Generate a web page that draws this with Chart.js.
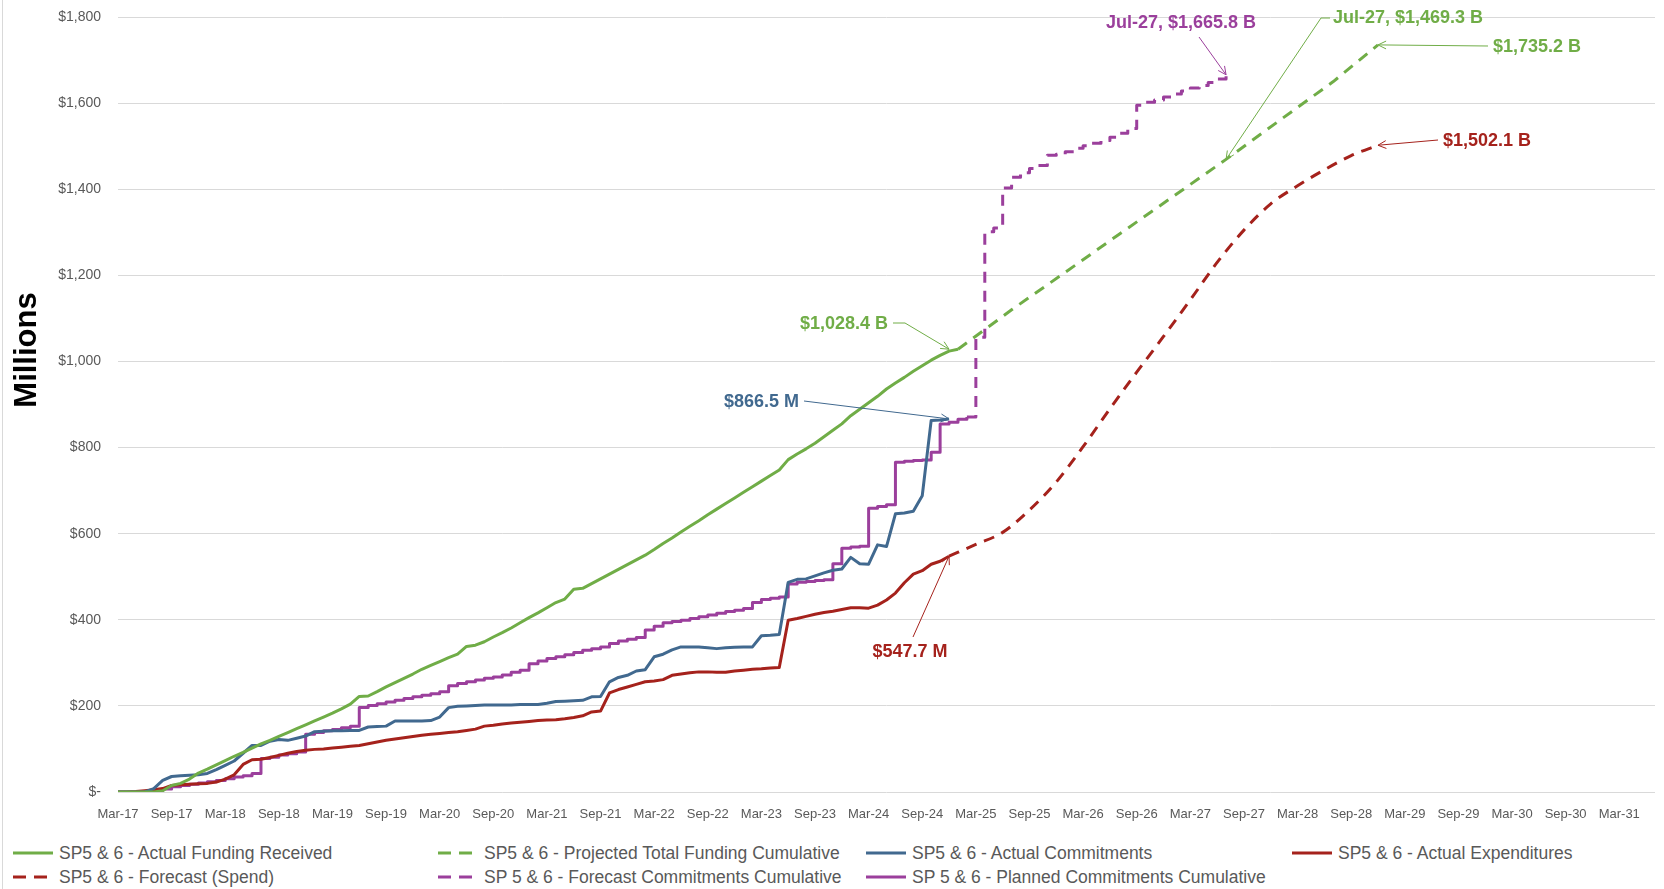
<!DOCTYPE html>
<html>
<head>
<meta charset="utf-8">
<title>SP5 &amp; 6 Funding, Commitments and Expenditures</title>
<script src="https://cdn.jsdelivr.net/npm/chart.js@4.4.1/dist/chart.umd.min.js"></script>
<style>
  html, body { margin: 0; padding: 0; background: #ffffff; }
  body { width: 1664px; height: 889px; position: relative; overflow: hidden; font-family: 'Liberation Sans', Arial, sans-serif; }
  #frame { position: absolute; left: 2px; top: 0; width: 1px; height: 889px; background: #d9d9d9; }
  #chart { position: absolute; left: 0; top: 0; }
  .legend-item { position: absolute; height: 22px; display: flex; align-items: center; color: #595959; font-size: 17.5px; white-space: nowrap; }
  .legend-item svg { margin-right: 6px; }
</style>
</head>
<body>
<div id="frame"></div>
<canvas id="chart" width="1664" height="836"></canvas>
<div id="legend"></div>
<script>
// monthly category axis, Mar-17 .. Jul-31
const firstMonth = 'Mar-17';
const monthCount = 173;
const monthNames = ['Jan', 'Feb', 'Mar', 'Apr', 'May', 'Jun', 'Jul', 'Aug', 'Sep', 'Oct', 'Nov', 'Dec'];

// actual series, one value per month starting Mar-17 ($ millions)
const fundingReceived = [
  0, 0, 0, 0, 0, 3, 15, 20, 30, 44,
  53, 63, 73, 83, 92, 102, 112, 120, 129, 138,
  147, 156, 165, 174, 183, 193, 204, 222, 223, 233,
  244, 254, 264, 274, 285, 294, 303, 312, 320, 338,
  341, 349, 360, 370, 381, 393, 405, 416, 428, 440,
  448, 471, 473, 484, 495, 506, 517, 528, 539, 550,
  563, 577, 590, 604, 617, 630, 644, 657, 670, 683,
  696, 709, 722, 735, 748, 772, 785, 797, 810, 825,
  840, 855, 874, 889, 904, 919, 936, 950, 963, 977,
  990, 1003, 1014, 1024, 1028.4
];
const actualCommitments = [
  0, 0, 0, 0, 8, 27, 36, 38, 39, 40,
  43, 52, 62, 72, 90, 108, 108, 118, 122, 120,
  125, 130, 140, 141, 142, 142, 143, 143, 151, 152,
  153, 165, 165, 165, 165, 166, 174, 196, 199, 200,
  201, 202, 202, 202, 202, 203, 203, 203, 206, 210,
  211, 212, 213, 221, 222, 256, 266, 271, 281, 284,
  314, 320, 330, 337, 337, 337, 335, 333, 335, 336,
  337, 337, 363, 364, 366, 487, 494, 495, 502, 509,
  515, 518, 545, 530, 529, 574, 570, 646, 648, 652,
  688, 863, 864, 866.5
];
const actualExpenditures = [
  0, 0, 1, 3, 5, 8, 15, 17, 18, 19,
  20, 23, 30, 40, 64, 75, 76, 80, 85, 90,
  94, 97, 99, 100, 102, 104, 106, 108, 112, 116,
  120, 123, 126, 129, 132, 134, 136, 138, 140, 143,
  146, 153, 155, 158, 160, 162, 164, 166, 167, 168,
  170, 173, 177, 186, 188, 230, 238, 244, 250, 256,
  258, 261, 271, 274, 277, 279, 279, 278, 278, 281,
  283, 285, 286, 288, 289, 399, 403, 408, 413, 417,
  420, 424, 428, 428, 427, 434, 446, 462, 486, 506,
  514, 529, 536, 547.7
];
const plannedCommitments = [
  0, 0, 0, 1, 3, 7, 12, 15, 18, 21,
  24, 27, 31, 35, 38, 43, 78, 81, 86, 89,
  93, 134, 138, 142, 145, 149, 153, 196, 201, 205,
  209, 213, 217, 221, 225, 228, 233, 247, 252, 256,
  260, 264, 267, 272, 278, 283, 298, 304, 310, 314,
  319, 324, 329, 333, 337, 345, 351, 355, 359, 376,
  385, 393, 396, 399, 403, 407, 411, 415, 419, 422,
  426, 440, 447, 450, 453, 483, 487, 489, 491, 493,
  530, 566, 569, 571, 659, 663, 667, 766, 768, 770,
  771, 789, 855, 859, 866, 871
];

// forecast series, read at the listed months
const projFundingMonths = ['Jan-25', 'Jul-25', 'Jan-26', 'Jul-26', 'Jan-27', 'Jul-27', 'Jan-28', 'Jul-28', 'Dec-28'];
const projFundingValues = [1028.4, 1120, 1207, 1295, 1382, 1469.3, 1560, 1650, 1735.2];

const spendMonths = ['Dec-24', 'Mar-25', 'Jun-25', 'Sep-25', 'Dec-25', 'Mar-26', 'Jun-26', 'Sep-26', 'Dec-26',
  'Mar-27', 'Jun-27', 'Sep-27', 'Dec-27', 'Mar-28', 'Jun-28', 'Sep-28', 'Dec-28'];
const spendValues = [547.7, 575, 603, 655, 720, 802, 890, 975, 1058,
  1143, 1230, 1305, 1366, 1408, 1445, 1478, 1502.1];

const forecastCommitMonths = ['Feb-25', 'Mar-25', 'Apr-25', 'May-25', 'Jun-25', 'Jul-25', 'Aug-25', 'Sep-25', 'Oct-25', 'Nov-25',
  'Dec-25', 'Jan-26', 'Feb-26', 'Mar-26', 'Apr-26', 'May-26', 'Jun-26', 'Jul-26', 'Aug-26', 'Sep-26',
  'Oct-26', 'Nov-26', 'Dec-26', 'Jan-27', 'Feb-27', 'Mar-27', 'Apr-27', 'May-27', 'Jun-27', 'Jul-27'];
const forecastCommitValues = [871, 1056, 1301, 1310, 1403, 1428, 1438, 1448, 1455, 1479,
  1481, 1487, 1495, 1501, 1507, 1513, 1521, 1530, 1541, 1595,
  1602, 1607, 1614, 1621, 1628, 1635, 1641, 1648, 1656, 1665.8];

const yTicks = { min: 0, max: 1800, step: 200 };

const GREEN = '#70ad47';
const BLUE = '#41698f';
const RED = '#a5221c';
const PURPLE = '#9b3f9c';

const categories = [];
(function buildMonths() {
  let mi = monthNames.indexOf(firstMonth.slice(0, 3));
  let yr = parseInt(firstMonth.slice(4), 10);
  for (let i = 0; i < monthCount; i++) {
    categories.push(monthNames[mi] + '-' + String(yr).padStart(2, '0'));
    mi++;
    if (mi === 12) { mi = 0; yr++; }
  }
})();

const toPoints = (months, values) => months.map((m, i) => ({ x: m, y: values[i] }));

const series = [
  { label: 'SP5 & 6 - Actual Funding Received', data: fundingReceived, color: GREEN, dash: [] },
  { label: 'SP5 & 6 - Projected Total Funding Cumulative', data: toPoints(projFundingMonths, projFundingValues), color: GREEN, dash: [11, 8] },
  { label: 'SP5 & 6 - Actual Commitments', data: actualCommitments, color: BLUE, dash: [] },
  { label: 'SP5 & 6 - Actual Expenditures', data: actualExpenditures, color: RED, dash: [] },
  { label: 'SP5 & 6 - Forecast (Spend)', data: toPoints(spendMonths, spendValues), color: RED, dash: [11, 8], tension: 0.35 },
  { label: 'SP 5 & 6 - Forecast Commitments Cumulative', data: toPoints(forecastCommitMonths, forecastCommitValues), color: PURPLE, dash: [11, 8], stepped: true },
  { label: 'SP 5 & 6 - Planned Commitments Cumulative', data: plannedCommitments, color: PURPLE, dash: [], stepped: true }
];

// callout labels: text position in px, leader start, and the data point it points at
const callouts = [
  { text: 'Jul-27, $1,665.8 B', color: PURPLE, month: 'Jul-27', value: 1665.8, tx: 1181, ty: 23, align: 'center', path: [[1199, 37]] },
  { text: 'Jul-27, $1,469.3 B', color: GREEN, month: 'Jul-27', value: 1469.3, tx: 1333, ty: 18, align: 'left', path: [[1330, 18], [1321, 18]] },
  { text: '$1,735.2 B', color: GREEN, month: 'Dec-28', value: 1735.2, tx: 1493, ty: 47, align: 'left', path: [[1488, 46]] },
  { text: '$1,502.1 B', color: RED, month: 'Dec-28', value: 1502.1, tx: 1443, ty: 141, align: 'left', path: [[1438, 140]] },
  { text: '$1,028.4 B', color: GREEN, month: 'Dec-24', value: 1028.4, tx: 888, ty: 324, align: 'right', path: [[893, 323], [905, 323]] },
  { text: '$866.5 M', color: BLUE, month: 'Dec-24', value: 866.5, tx: 799, ty: 402, align: 'right', path: [[804, 401]] },
  { text: '$547.7 M', color: RED, month: 'Dec-24', value: 547.7, tx: 910, ty: 652, align: 'center', path: [[913, 637]] }
];

const calloutPlugin = {
  id: 'callouts',
  afterDatasetsDraw(chart) {
    const { ctx, scales: { x, y } } = chart;
    callouts.forEach(c => {
      const px = x.getPixelForValue(categories.indexOf(c.month));
      const py = y.getPixelForValue(c.value);
      ctx.save();
      ctx.strokeStyle = c.color;
      ctx.lineWidth = 1;
      ctx.beginPath();
      ctx.moveTo(c.path[0][0], c.path[0][1]);
      c.path.slice(1).forEach(p => ctx.lineTo(p[0], p[1]));
      ctx.lineTo(px, py);
      ctx.stroke();
      const last = c.path[c.path.length - 1];
      const ang = Math.atan2(py - last[1], px - last[0]);
      ctx.beginPath();
      ctx.moveTo(px - 9 * Math.cos(ang - 0.45), py - 9 * Math.sin(ang - 0.45));
      ctx.lineTo(px, py);
      ctx.lineTo(px - 9 * Math.cos(ang + 0.45), py - 9 * Math.sin(ang + 0.45));
      ctx.stroke();
      ctx.font = "bold 18px 'Liberation Sans', Arial, sans-serif";
      ctx.fillStyle = c.color;
      ctx.textAlign = c.align;
      ctx.textBaseline = 'middle';
      ctx.fillText(c.text, c.tx, c.ty);
      ctx.restore();
    });
  }
};

const axisTitlePlugin = {
  id: 'axisTitle',
  afterDraw(chart) {
    const ctx = chart.ctx;
    ctx.save();
    ctx.translate(27, 350);
    ctx.rotate(-Math.PI / 2);
    ctx.font = "bold 31px 'Liberation Sans', Arial, sans-serif";
    ctx.fillStyle = '#000000';
    ctx.textAlign = 'center';
    ctx.textBaseline = 'middle';
    ctx.fillText('Millions', 0, 0);
    ctx.restore();
  }
};

const chart = new Chart(document.getElementById('chart').getContext('2d'), {
  type: 'line',
  data: {
    labels: categories,
    datasets: series.map(s => ({
      label: s.label,
      data: s.data,
      borderColor: s.color,
      backgroundColor: s.color,
      borderWidth: 3,
      borderDash: s.dash,
      borderJoinStyle: 'round',
      pointRadius: 0,
      tension: s.tension || 0,
      cubicInterpolationMode: s.tension ? 'monotone' : 'default',
      stepped: s.stepped || false,
      spanGaps: true,
      fill: false
    }))
  },
  options: {
    responsive: false,
    animation: false,
    layout: { padding: { left: 0, right: 9, top: 17, bottom: 0 } },
    plugins: {
      legend: { display: false },
      tooltip: { enabled: false }
    },
    scales: {
      x: {
        type: 'category',
        offset: false,
        grid: { display: false },
        border: { display: false },
        ticks: {
          autoSkip: false,
          maxRotation: 0,
          padding: 7,
          color: '#595959',
          font: { family: "'Liberation Sans', Arial, sans-serif", size: 13 },
          callback(value, index) {
            return index % 6 === 0 ? this.getLabelForValue(value) : '';
          }
        },
        afterFit(scale) { scale.height = 44; }
      },
      y: {
        min: yTicks.min,
        max: yTicks.max,
        grid: { color: '#d9d9d9', lineWidth: 1, drawTicks: false },
        border: { display: false },
        ticks: {
          stepSize: yTicks.step,
          padding: 17,
          color: '#595959',
          font: { family: "'Liberation Sans', Arial, sans-serif", size: 14 },
          callback(value) {
            return value === 0 ? '$-' : '$' + value.toLocaleString('en-US');
          }
        },
        afterFit(scale) {
          scale.width = 118;
          scale.paddingTop = 0;
          scale.paddingBottom = 0;
        }
      }
    }
  },
  plugins: [calloutPlugin, axisTitlePlugin]
});

// legend laid out in Excel's fixed columns
const legendPos = [
  [13, 853], [438, 853], [866, 853], [1292, 853],
  [13, 877], [438, 877], [866, 877]
];
const legendOrder = [0, 1, 2, 3, 4, 5, 6];
const legend = document.getElementById('legend');
legendOrder.forEach((idx, i) => {
  const s = series[idx];
  const item = document.createElement('div');
  item.className = 'legend-item';
  item.style.left = legendPos[i][0] + 'px';
  item.style.top = (legendPos[i][1] - 11) + 'px';
  const dash = s.dash.length ? 'stroke-dasharray="13 8"' : '';
  item.innerHTML = '<svg width="40" height="6"><line x1="0" y1="3" x2="' + (s.dash.length ? 34 : 40) +
    '" y2="3" stroke="' + s.color + '" stroke-width="3" ' + dash + '/></svg><span>' +
    s.label.replace(/&/g, '&amp;') + '</span>';
  legend.appendChild(item);
});
</script>
</body>
</html>
